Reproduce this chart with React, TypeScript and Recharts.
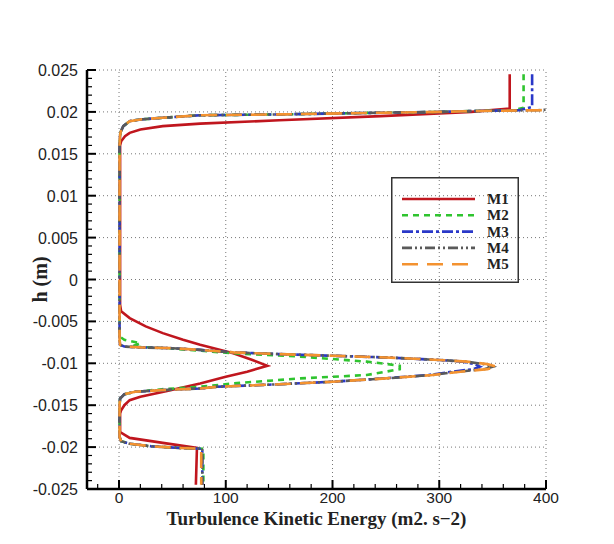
import React from 'react'
import { LineChart, Line, XAxis, YAxis, ReferenceLine, Legend, Label } from 'recharts'

// TKE profiles (m2/s2) against height h (m)
const M1_H = [0.0245, 0.0204, 0.0200, 0.0198, 0.0195, 0.0190, 0.0186, 0.0183, 0.0179, 0.0175, 0.0171, 0.0165, 0.0160, 0.0050, -0.0030, -0.0038, -0.0046, -0.0056, -0.0064, -0.0072, -0.0078, -0.0088, -0.0096, -0.0103, -0.0110, -0.0116, -0.0124, -0.0133, -0.0140, -0.0144, -0.0150, -0.0156, -0.0160, -0.0182, -0.0189, -0.0195, -0.0201, -0.0245]
const M1_TKE = [366, 366, 330, 300, 245, 150, 76, 41, 20, 10, 5.6, 2, 1, 1, 1, 2, 10, 25, 41, 60, 76, 107, 125, 139, 120, 100, 76, 45, 20, 10, 5, 2, 1, 1, 10, 41, 73, 72]

const M2_H = [0.0245, 0.0205, 0.0202, 0.0201, 0.0200, 0.0199, 0.0197, 0.0196, 0.0193, 0.0191, 0.0189, 0.0183, 0.0176, 0.0172, 0.0160, -0.0068, -0.0072, -0.0076, -0.0080, -0.0082, -0.0085, -0.0088, -0.0092, -0.0098, -0.0101, -0.0103, -0.0107, -0.0110, -0.0114, -0.0118, -0.0124, -0.0128, -0.0131, -0.0134, -0.0137, -0.0142, -0.0150, -0.0188, -0.0193, -0.0196, -0.0199, -0.0201, -0.0202, -0.0245]
const M2_TKE = [379, 379, 370, 330, 300, 245, 150, 76, 41, 20, 10, 4, 1.5, 1, 0.5, 0.5, 5, 20, 12, 45, 76, 107, 170, 232, 252, 263, 263, 250, 232, 170, 107, 76, 40, 15, 5, 1, 0.5, 0.5, 2, 10, 30, 57, 79, 79]

const M3_H = [0.0245, 0.0206, 0.0202, 0.0201, 0.0200, 0.0199, 0.0197, 0.0196, 0.0193, 0.0191, 0.0189, 0.0183, 0.0176, 0.0172, 0.0160, -0.0072, -0.0078, -0.0080, -0.0081, -0.0082, -0.0084, -0.0087, -0.0089, -0.0091, -0.0093, -0.0096, -0.0098, -0.0101, -0.0104, -0.0107, -0.0110, -0.0114, -0.0118, -0.0122, -0.0125, -0.0128, -0.0130, -0.0132, -0.0134, -0.0137, -0.0142, -0.0150, -0.0188, -0.0193, -0.0196, -0.0199, -0.0201, -0.0202, -0.0245]
const M3_TKE = [387, 387, 375, 330, 300, 245, 150, 76, 41, 20, 10, 4, 1.5, 1, 0.5, 0.5, 1, 5, 20, 50, 76, 107, 150, 200, 250, 300, 322, 333, 338, 332, 312, 290, 248, 200, 150, 92, 76, 40, 15, 5, 1, 0.5, 0.5, 2, 10, 30, 57, 78, 78]

const M4_H = [0.0245, 0.0203, 0.0202, 0.0201, 0.0200, 0.0199, 0.0197, 0.0196, 0.0193, 0.0191, 0.0189, 0.0183, 0.0176, 0.0172, 0.0160, -0.0072, -0.0078, -0.0080, -0.0081, -0.0082, -0.0084, -0.0087, -0.0089, -0.0091, -0.0093, -0.0096, -0.0098, -0.0101, -0.0104, -0.0107, -0.0110, -0.0114, -0.0118, -0.0122, -0.0125, -0.0128, -0.0130, -0.0132, -0.0134, -0.0137, -0.0142, -0.0150, -0.0188, -0.0193, -0.0196, -0.0199, -0.0201, -0.0202, -0.0245]
const M4_TKE = [405, 405, 392, 330, 300, 245, 150, 76, 41, 20, 10, 4, 1.5, 1, 0.5, 0.5, 1, 5, 20, 50, 76, 107, 150, 200, 250, 300, 325, 342, 350, 342, 318, 293, 250, 200, 150, 92, 76, 40, 15, 5, 1, 0.5, 0.5, 2, 10, 30, 57, 78, 78]

const M5_H = [0.0245, 0.0203, 0.0202, 0.0201, 0.0200, 0.0199, 0.0197, 0.0196, 0.0193, 0.0191, 0.0189, 0.0183, 0.0176, 0.0172, 0.0160, -0.0072, -0.0078, -0.0080, -0.0081, -0.0082, -0.0084, -0.0087, -0.0089, -0.0091, -0.0093, -0.0096, -0.0098, -0.0101, -0.0104, -0.0107, -0.0110, -0.0114, -0.0118, -0.0122, -0.0125, -0.0128, -0.0130, -0.0132, -0.0134, -0.0137, -0.0142, -0.0150, -0.0188, -0.0193, -0.0196, -0.0199, -0.0201, -0.0202, -0.0245]
const M5_TKE = [410, 410, 395, 330, 300, 245, 150, 76, 41, 20, 10, 4, 1.5, 1, 0.5, 0.5, 1, 5, 20, 50, 76, 107, 150, 200, 250, 300, 326, 345, 354, 345, 320, 294, 250, 200, 150, 92, 76, 40, 15, 5, 1, 0.5, 0.5, 2, 10, 30, 57, 77, 77]

const X_TICKS = [-20, 0, 20, 40, 60, 80, 100, 120, 140, 160, 180, 200, 220, 240, 260, 280, 300, 320, 340, 360, 380, 400]
const Y_MAJOR = [-0.025, -0.02, -0.015, -0.01, -0.005, 0, 0.005, 0.01, 0.015, 0.02, 0.025]
const X_GRID = [0, 100, 200, 300, 400]
const Y_GRID = [-0.02, -0.015, -0.01, -0.005, 0, 0.005, 0.01, 0.015, 0.02, 0.025]

const SERIES = [
  { name: 'M1', h: M1_H, tke: M1_TKE, color: '#c0161e', dash: undefined },
  { name: 'M2', h: M2_H, tke: M2_TKE, color: '#2fc42f', dash: '6 5' },
  { name: 'M3', h: M3_H, tke: M3_TKE, color: '#2a38c8', dash: '11 3 3 3' },
  { name: 'M4', h: M4_H, tke: M4_TKE, color: '#5a5a5a', dash: '10 3 2 3 2 3' },
  { name: 'M5', h: M5_H, tke: M5_TKE, color: '#f39230', dash: '16 9' },
]

// minor ticks every 1/5 of the major step on the h axis
const Y_TICKS: number[] = []
for (let i = 0; i < Y_MAJOR.length - 1; i++) {
  const step = (Y_MAJOR[i + 1] - Y_MAJOR[i]) / 5
  for (let k = 0; k < 5; k++) Y_TICKS.push(+(Y_MAJOR[i] + k * step).toFixed(4))
}
Y_TICKS.push(Y_MAJOR[Y_MAJOR.length - 1])

const isMajor = (v: number, step: number) => Math.abs(v / step - Math.round(v / step)) < 1e-6
const TICK_FONT = '"Liberation Sans", Arial, sans-serif'
const TITLE_FONT = '"Liberation Serif", "Times New Roman", serif'

function XTick({ x, y, payload }: any) {
  const major = isMajor(payload.value, 100)
  return (
    <g>
      <line x1={x} x2={x} y1={y} y2={y - (major ? 9 : 5)} stroke="#000" strokeWidth={major ? 2 : 1.2} />
      {major && (
        <text x={x} y={y + 14} textAnchor="middle" fontSize={15.5} fontFamily={TICK_FONT} fill="#222">
          {payload.value}
        </text>
      )}
    </g>
  )
}

function YTick({ x, y, payload }: any) {
  const major = isMajor(payload.value, 0.005)
  return (
    <g>
      <line x1={x} x2={x + (major ? 9 : 5)} y1={y} y2={y} stroke="#000" strokeWidth={major ? 2 : 1.2} />
      {major && (
        <text x={x - 9} y={y + 6} textAnchor="end" fontSize={16} fontFamily={TICK_FONT} fill="#222">
          {String(+payload.value.toFixed(3))}
        </text>
      )}
    </g>
  )
}

function XTitle({ viewBox }: any) {
  return (
    <text x={viewBox.x + viewBox.width / 2} y={525} textAnchor="middle" fontSize={19} fontWeight="bold" fontFamily={TITLE_FONT} fill="#222">
      Turbulence Kinetic Energy (m2. s−2)
    </text>
  )
}

function YTitle({ viewBox }: any) {
  const cx = 47
  const cy = viewBox.y + viewBox.height / 2
  return (
    <text x={cx} y={cy} transform={`rotate(-90 ${cx} ${cy})`} textAnchor="middle" fontSize={20} fontWeight="bold" fontFamily={TITLE_FONT} fill="#222">
      h (m)
    </text>
  )
}

function LegendBox() {
  return (
    <svg width={128} height={106}>
      <rect x={0.75} y={0.75} width={126.5} height={104.5} fill="none" stroke="#333" strokeWidth={1.5} />
      {SERIES.map((s, i) => {
        const ry = 22 + i * 16.3
        return (
          <g key={s.name}>
            <line x1={11} x2={84} y1={ry} y2={ry} stroke={s.color} strokeWidth={2.6} strokeDasharray={s.dash} />
            <text x={96} y={ry + 5} fontSize={15} fontWeight="bold" fontFamily={TITLE_FONT} fill="#222">
              {s.name}
            </text>
          </g>
        )
      })}
    </svg>
  )
}

export default function App() {
  return (
    <div style={{ position: 'relative', width: 614, height: 544, margin: -8, overflow: 'hidden', background: '#fff' }}>
      <div style={{ position: 'absolute', left: 5, top: 5, width: 800, height: 800, borderTop: '1.5px solid #222', borderLeft: '1.5px solid #222' }} />
      <div style={{ position: 'absolute', left: 0, top: 0 }}>
        <LineChart width={614} height={544} margin={{ top: 70, right: 68, left: 27, bottom: 35 }}>
          <XAxis
            type="number"
            dataKey="tke"
            domain={[-30, 400]}
            allowDataOverflow
            ticks={X_TICKS}
            interval={0}
            tick={XTick}
            tickLine={false}
            tickSize={0}
            tickMargin={0}
            height={20}
            axisLine={{ stroke: '#000', strokeWidth: 2.5 }}
          >
            <Label content={XTitle} />
          </XAxis>
          <YAxis
            type="number"
            dataKey="h"
            domain={[-0.025, 0.025]}
            allowDataOverflow
            ticks={Y_TICKS}
            interval={0}
            tick={YTick}
            tickLine={false}
            tickSize={0}
            tickMargin={0}
            width={60}
            axisLine={{ stroke: '#000', strokeWidth: 2.5 }}
          >
            <Label content={YTitle} />
          </YAxis>
          {X_GRID.map((v) => (
            <ReferenceLine key={`gx${v}`} x={v} stroke="#777" strokeDasharray="1 3" strokeWidth={1} />
          ))}
          {Y_GRID.map((v) => (
            <ReferenceLine key={`gy${v}`} y={v} stroke="#777" strokeDasharray="1 3" strokeWidth={1} />
          ))}
          {SERIES.map((s) => (
            <Line
              key={s.name}
              name={s.name}
              data={s.h.map((h, i) => ({ h, tke: s.tke[i] }))}
              dataKey="h"
              type="linear"
              stroke={s.color}
              strokeWidth={2.6}
              strokeDasharray={s.dash}
              dot={false}
              activeDot={false}
              isAnimationActive={false}
            />
          ))}
          <Legend
            layout="vertical"
            align="center"
            verticalAlign="middle"
            content={LegendBox}
            wrapperStyle={{ position: 'absolute', left: 391, top: 177, width: 128, height: 106 }}
          />
        </LineChart>
      </div>
    </div>
  )
}
